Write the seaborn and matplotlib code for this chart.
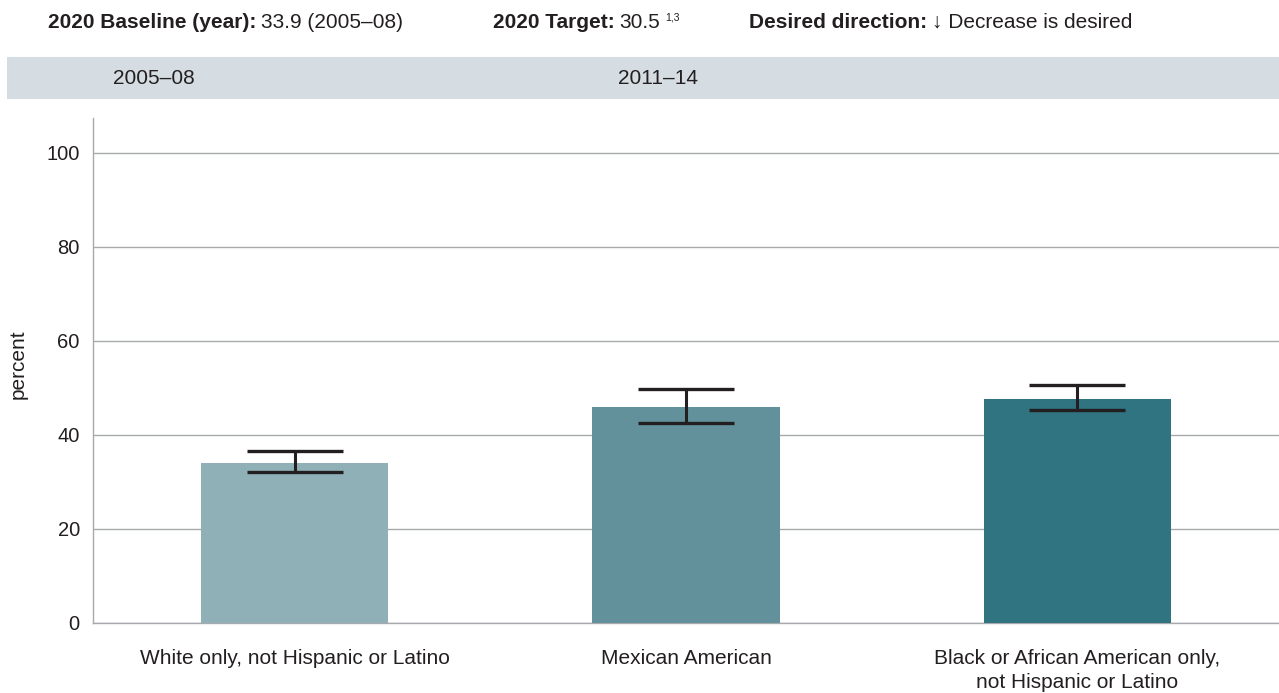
import matplotlib
matplotlib.use("Agg")
import matplotlib.pyplot as plt
import seaborn as sns
import pandas as pd
import numpy as np
from matplotlib.patches import Rectangle

# ---- data ----
categories = ["White only, not Hispanic or Latino",
              "Mexican American",
              "Black or African American only,\nnot Hispanic or Latino"]
values = [34.0, 46.0, 47.7]
ci_low = [32.1, 42.6, 45.2]
ci_high = [36.6, 49.8, 50.6]
bar_colors = ["#8fb0b7", "#62919b", "#2f7480"]
yticks = [0, 20, 40, 60, 80, 100]
period_labels = ["2005\u201308", "2011\u201314"]

sns.set_theme(style="white")
plt.rcParams['font.family'] = ['Liberation Sans', 'DejaVu Sans']
TXT = "#231f20"
FS = 15

W, H = 1279, 693
fig = plt.figure(figsize=(W / 100, H / 100), dpi=100)
ax = fig.add_axes([93 / W, (H - 623) / H, (W - 93) / W, (623 - 118) / H])

df = pd.DataFrame({"group": categories, "value": values})
sns.barplot(data=df, x="group", y="value", hue="group", palette=bar_colors,
            saturation=1, width=0.478, legend=False, ax=ax, zorder=3,
            edgecolor="none", linewidth=0)

xs = np.arange(len(categories))
v = np.array(values)
yerr = np.vstack([v - np.array(ci_low), np.array(ci_high) - v])
ax.errorbar(xs, v, yerr=yerr, fmt="none", ecolor="#231f20", elinewidth=2.2,
            capsize=34.5, capthick=2.4, zorder=4)

ax.set_xlim(-0.515, 2.515)
ax.set_ylim(0, 107.4)
ax.set_yticks(yticks)
ax.set_yticklabels([str(t) for t in yticks], fontsize=14.5, color=TXT)
ax.yaxis.grid(True, color="#a7a9ac", linewidth=1.0, zorder=0)
ax.set_axisbelow(True)
ax.tick_params(axis="both", length=0)
ax.tick_params(axis="y", pad=9.5)
ax.tick_params(axis="x", pad=19)
ax.set_xticks(xs)
ax.set_xticklabels(categories, fontsize=FS, color=TXT, linespacing=1.3)
ax.set_xlabel("")
ax.set_ylabel("")
for s in ["top", "right"]:
    ax.spines[s].set_visible(False)
for s in ["left", "bottom"]:
    ax.spines[s].set_color("#a7a9ac")
    ax.spines[s].set_linewidth(1.0)

fig.text(18 / W, 1 - 364 / H, "percent", rotation=90, ha="center", va="center",
         fontsize=FS, color=TXT)

# ---- header band ----
fig.add_artist(Rectangle((7 / W, 1 - 99 / H), (W - 7) / W, 42 / H,
                         transform=fig.transFigure, facecolor="#d5dde2",
                         edgecolor="none", zorder=0))
fig.text(113 / W, 1 - 78 / H, period_labels[0], fontsize=FS, color=TXT,
         ha="left", va="center")
fig.text(618 / W, 1 - 78 / H, period_labels[1], fontsize=FS, color=TXT,
         ha="left", va="center")

# ---- header line ----
fig.canvas.draw()
renderer = fig.canvas.get_renderer()


def pair(x_px, bold, normal, sup=None):
    y = 1 - 22 / H
    t = fig.text(x_px / W, y, bold, fontsize=FS, fontweight="bold",
                 color=TXT, ha="left", va="center")
    bb = t.get_window_extent(renderer)
    t2 = fig.text((bb.x1 + 5) / W, y, normal, fontsize=FS, color=TXT,
                  ha="left", va="center")
    if sup:
        bb2 = t2.get_window_extent(renderer)
        fig.text((bb2.x1 + 5) / W, 1 - 17 / H, sup, fontsize=7.5, color=TXT,
                 ha="left", va="center")


pair(48, "2020 Baseline (year):", "33.9 (2005\u201308)")
pair(493, "2020 Target:", "30.5", "1,3")
pair(749, "Desired direction:", "\u2193 Decrease is desired")

fig.savefig("out.png", dpi=100)
